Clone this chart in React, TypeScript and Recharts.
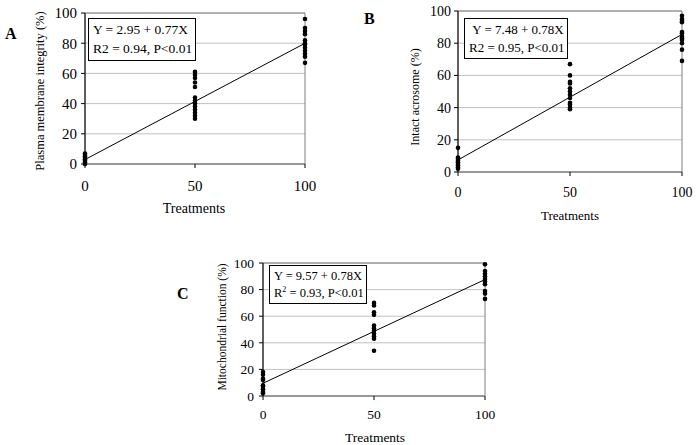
import React from "react";
import {
  CartesianGrid,
  ReferenceArea,
  Scatter,
  ScatterChart,
  XAxis,
  YAxis,
} from "recharts";

const FONT = "'Liberation Serif', 'Times New Roman', serif";

const treatmentTicks = [0, 50, 100];
const percentTicks = [0, 20, 40, 60, 80, 100];

// A - plasma membrane integrity (%)
const membraneAt0 = [0, 1, 2, 3, 4, 5, 6, 7];
const membraneAt50 = [61, 59, 57, 54, 51, 44, 42, 40, 38, 36, 34, 32, 30];
const membraneAt100 = [96, 90, 88, 86, 82, 80, 79, 77, 75, 73, 71, 67];
const membraneFit = [2.95, 79.95];

// B - intact acrosome (%)
const acrosomeAt0 = [15, 9, 8, 7, 6, 5, 4, 3, 2];
const acrosomeAt50 = [67, 60, 56, 55, 52, 50, 48, 46, 43, 42, 40, 39];
const acrosomeAt100 = [97, 95, 94, 93, 87, 86, 84, 83, 82, 80, 76, 69];
const acrosomeFit = [7.48, 85.48];

// C - mitochondrial function (%)
const mitoAt0 = [18, 16, 13, 12, 8, 7, 5, 3, 2];
const mitoAt50 = [70, 68, 63, 61, 53, 51, 49, 47, 45, 43, 34];
const mitoAt100 = [99, 94, 92, 90, 88, 86, 84, 79, 77, 73];
const mitoFit = [9.57, 87.57];

const toPoints = (cols: number[][]) =>
  cols.flatMap((vals, i) => vals.map((y) => ({ x: treatmentTicks[i], y })));
const toFit = (ends: number[]) => [
  { x: 0, y: ends[0] },
  { x: 100, y: ends[1] },
];

const Dot = (p: any) => <circle cx={p.cx} cy={p.cy} r={2.3} fill="#000" />;
const NoDot = () => <g />;

type PanelProps = {
  left: number;
  top: number;
  width: number;
  height: number;
  margin: { top: number; right: number; bottom: number; left: number };
  points: { x: number; y: number }[];
  fit: { x: number; y: number }[];
  tickSize: number;
  yTickMargin: number;
  xTickMargin: number;
};

function Panel(p: PanelProps) {
  const tick = { fill: "#000", fontSize: p.tickSize, fontFamily: FONT };
  return (
    <div style={{ position: "absolute", left: p.left, top: p.top, fontFamily: FONT }}>
      <ScatterChart width={p.width} height={p.height} margin={p.margin} style={{ fontFamily: FONT }}>
        <CartesianGrid vertical={false} stroke="#c0c0c0" horizontalValues={percentTicks} />
        <ReferenceArea x1={0} x2={100} y1={0} y2={100} stroke="#808080" fill="none" fillOpacity={0} />
        <XAxis
          type="number"
          dataKey="x"
          domain={[0, 100]}
          ticks={treatmentTicks}
          tick={tick}
          tickSize={4}
          tickMargin={p.xTickMargin}
          axisLine={{ stroke: "#808080" }}
          tickLine={{ stroke: "#000" }}
          height={30}
        />
        <YAxis
          type="number"
          dataKey="y"
          domain={[0, 100]}
          ticks={percentTicks}
          tick={tick}
          tickSize={4}
          tickMargin={p.yTickMargin}
          axisLine={{ stroke: "#000" }}
          tickLine={{ stroke: "#000" }}
          width={30}
        />
        <Scatter data={p.fit} line={{ stroke: "#000", strokeWidth: 1 }} shape={NoDot} isAnimationActive={false} />
        <Scatter data={p.points} shape={Dot} isAnimationActive={false} />
      </ScatterChart>
    </div>
  );
}

const abs = (x: number, y: number, extra: React.CSSProperties = {}): React.CSSProperties => ({
  position: "absolute",
  left: x,
  top: y,
  fontFamily: FONT,
  color: "#000",
  whiteSpace: "nowrap",
  ...extra,
});

function YTitle({ cx, cy, size, text }: { cx: number; cy: number; size: number; text: string }) {
  return (
    <div style={abs(cx, cy, { fontSize: size, transform: "translate(-50%, -50%) rotate(-90deg)", lineHeight: 1 })}>
      {text}
    </div>
  );
}

function XTitle({ cx, cy, size }: { cx: number; cy: number; size: number }) {
  return (
    <div style={abs(cx, cy, { fontSize: size, transform: "translate(-50%, -50%)", lineHeight: 1 })}>
      Treatments
    </div>
  );
}

function EqBox({ x, y, w, h, size, children }: any) {
  return (
    <div
      style={abs(x, y, {
        width: w,
        height: h,
        boxSizing: "border-box",
        border: "1px solid #000",
        background: "#fff",
        fontSize: size,
        lineHeight: `${(h - 6) / 2}px`,
        padding: "2px 0 0 4px",
      })}
    >
      {children}
    </div>
  );
}

export default function App() {
  return (
    <div style={{ position: "absolute", left: 0, top: 0, width: 696, height: 445, background: "#fff", fontFamily: FONT }}>
      <Panel
        left={0}
        top={0}
        width={340}
        height={220}
        margin={{ top: 13, right: 35, bottom: 26, left: 55 }}
        points={toPoints([membraneAt0, membraneAt50, membraneAt100])}
        fit={toFit(membraneFit)}
        tickSize={15}
        yTickMargin={4}
        xTickMargin={12}
      />
      <Panel
        left={350}
        top={0}
        width={346}
        height={230}
        margin={{ top: 11, right: 14, bottom: 28, left: 78 }}
        points={toPoints([acrosomeAt0, acrosomeAt50, acrosomeAt100])}
        fit={toFit(acrosomeFit)}
        tickSize={14}
        yTickMargin={3}
        xTickMargin={11}
      />
      <Panel
        left={190}
        top={250}
        width={320}
        height={195}
        margin={{ top: 13, right: 25, bottom: 19, left: 43 }}
        points={toPoints([mitoAt0, mitoAt50, mitoAt100])}
        fit={toFit(mitoFit)}
        tickSize={13.5}
        yTickMargin={5}
        xTickMargin={9}
      />

      <div style={abs(5, 26, { fontSize: 16, fontWeight: "bold", lineHeight: 1 })}>A</div>
      <div style={abs(364, 11, { fontSize: 16, fontWeight: "bold", lineHeight: 1 })}>B</div>
      <div style={abs(177, 286, { fontSize: 16, fontWeight: "bold", lineHeight: 1 })}>C</div>

      <YTitle cx={40} cy={91} size={12.5} text="Plasma membrane integrity (%)" />
      <YTitle cx={415} cy={97} size={12} text="Intact acrosome (%)" />
      <YTitle cx={223} cy={327} size={11.5} text="Mitochondrial function (%)" />

      <XTitle cx={194} cy={209} size={14} />
      <XTitle cx={570} cy={215} size={13} />
      <XTitle cx={375} cy={438} size={13.5} />

      <EqBox x={88} y={18} w={108} h={43} size={13.5}>
        <div>Y = 2.95 + 0.77X</div>
        <div>R2 = 0.94, P&lt;0.01</div>
      </EqBox>
      <EqBox x={464} y={18} w={104} h={41} size={13}>
        <div>&nbsp;Y = 7.48 + 0.78X</div>
        <div>R2 = 0.95, P&lt;0.01</div>
      </EqBox>
      <EqBox x={269} y={265} w={98} h={39} size={12.5}>
        <div>Y = 9.57 + 0.78X</div>
        <div>
          R<sup style={{ fontSize: 8, lineHeight: 0 }}>2</sup> = 0.93, P&lt;0.01
        </div>
      </EqBox>
    </div>
  );
}
